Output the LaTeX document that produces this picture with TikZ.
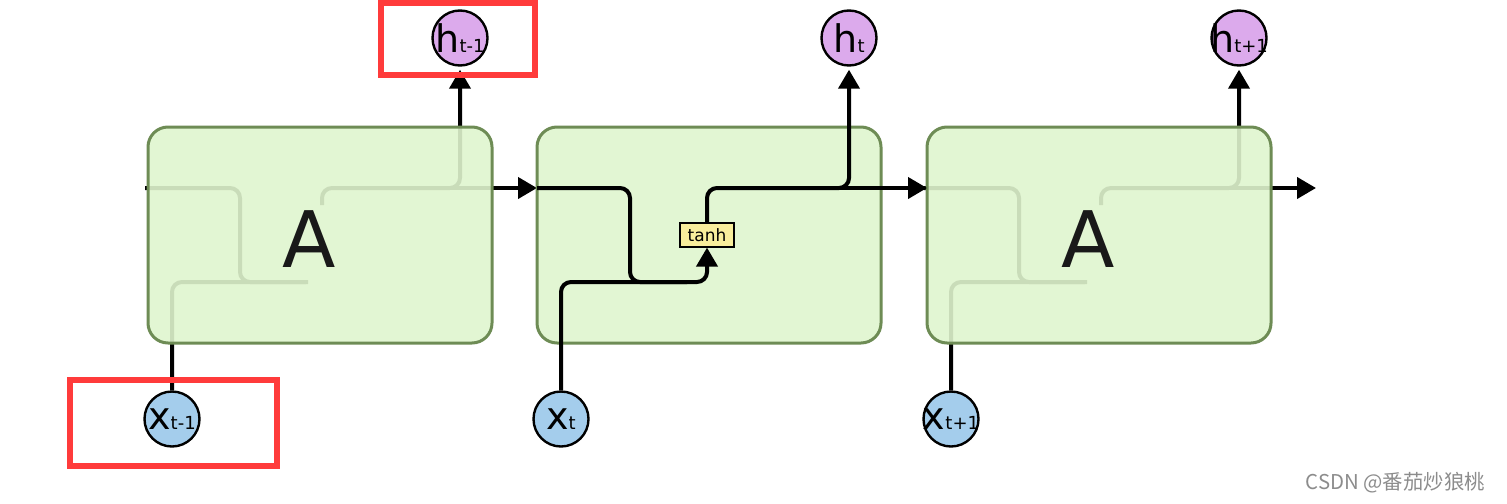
\documentclass[tikz,border=0pt]{standalone}
\usepackage{fontspec}
\setmainfont{DejaVu Sans}
\newfontfamily\cjk{Noto Sans CJK SC}
\usetikzlibrary{arrows.meta, backgrounds}
\definecolor{cellfill}{HTML}{DFF5CE}
\definecolor{celldraw}{HTML}{6E8C55}
\definecolor{hfill}{HTML}{DCAAEC}
\definecolor{xfill}{HTML}{A4CDEC}
\definecolor{tanhfill}{HTML}{F8EE9C}
\definecolor{markred}{HTML}{FF3B3B}
\newcommand\sublabel[2]{\makebox[0pt]{{\fontsize{19}{19}\selectfont #1}{\fontsize{9}{9}\selectfont #2}}}
\tikzset{
  cell/.style = {draw = celldraw, line width = 1.5pt, fill = cellfill, fill opacity = .9, rounded corners = 10pt,
                 minimum width = 172pt, minimum height = 108pt, inner sep = 0pt, outer sep = 0pt},
  letter/.style = {font = \fontsize{39}{39}\selectfont, text = black!90},
  hnode/.style = {circle, draw, line width = 1.2pt, fill = hfill, minimum size = 27.5pt, inner sep = 0pt},
  xnode/.style = {hnode, fill = xfill},
  tanhbox/.style = {draw, line width = .6pt, fill = tanhfill, minimum width = 27pt, minimum height = 12pt,
                    inner sep = 0pt, font = \fontsize{8.5}{8.5}\selectfont},
  flow/.style = {line width = 2pt, rounded corners = 5pt},
  tip/.style = {-{Triangle[length = 9.5pt, width = 10.5pt]}},
  redmark/.style = {draw = markred, line width = 3pt}
}
\begin{document}
\begin{tikzpicture}[x = .5pt, y = -.5pt]
  \useasboundingbox (0, 0) rectangle (1507, 503);
  % cells
  \node[cell] (A1) at (320, 235) {};
  \node[cell] (A2) at (709, 235) {};
  \node[cell] (A3) at (1099, 235) {};
  \node[letter] (a1) at (309, 239) {A};
  \node[letter] (a3) at (1088, 239) {A};
  \node[tanhbox] (tanh) at (707, 235) {tanh};
  % inputs and outputs
  \foreach \n/\xx/\s in {1/172/t-1, 2/561/t, 3/951/t+1}
    \node[xnode] (x\n) at (\xx, 419) {\sublabel{x}{\s}};
  \foreach \n/\xx/\s in {1/460/t-1, 2/849/t, 3/1239/t+1}
    \node[hnode] (h\n) at (\xx, 38) {\sublabel{h}{\s}};
  \coordinate (out) at (1316, 188);
  % lines seen through cells A
  \begin{pgfonlayer}{background}
    \foreach \c/\n in {A1/1, A3/3} {
      \draw[flow] ([shift = {(-3, 61)}]\c.north west) -| ([shift = {(92, 155)}]\c.north west) -- ++(66, 0);
      \draw[flow] (x\n.north) |- ([shift = {(160, 155)}]\c.north west);
      \draw[flow, tip, shorten > = 1.5pt] ([shift = {(174, 78)}]\c.north west) |- ([shift = {(312, 61)}]\c.north west) -- (h\n.south);
    }
    \draw[flow, tip] ([shift = {(300, 61)}]A1.north west) -- ([shift = {(0, 61)}]A2.north west);
    \draw[flow, tip] ([shift = {(300, 61)}]A3.north west) -- (out);
  \end{pgfonlayer}
  % middle cell
  \draw[flow, tip] ([shift = {(0, 61)}]A2.north west) -| ([shift = {(93, 155)}]A2.north west) -| (tanh.south);
  \draw[flow] (x2.north) |- ([shift = {(150, 155)}]A2.north west);
  \draw[flow, tip, shorten > = 1.5pt] (tanh.north) |- ([shift = {(312, 61)}]A2.north west) -- (h2.south);
  \draw[flow, tip] ([shift = {(300, 61)}]A2.north west) -- ([shift = {(0, 61)}]A3.north west);
  % marks
  \draw[redmark] (381, 3) rectangle (535, 75);
  \draw[redmark] (70, 380) rectangle (277, 466);
  \node[anchor = east, text = black!45, font = \cjk\fontsize{10.2}{11}\selectfont] (mark) at (1492, 483) {CSDN @番茄炒狼桃};
\end{tikzpicture}
\end{document}
